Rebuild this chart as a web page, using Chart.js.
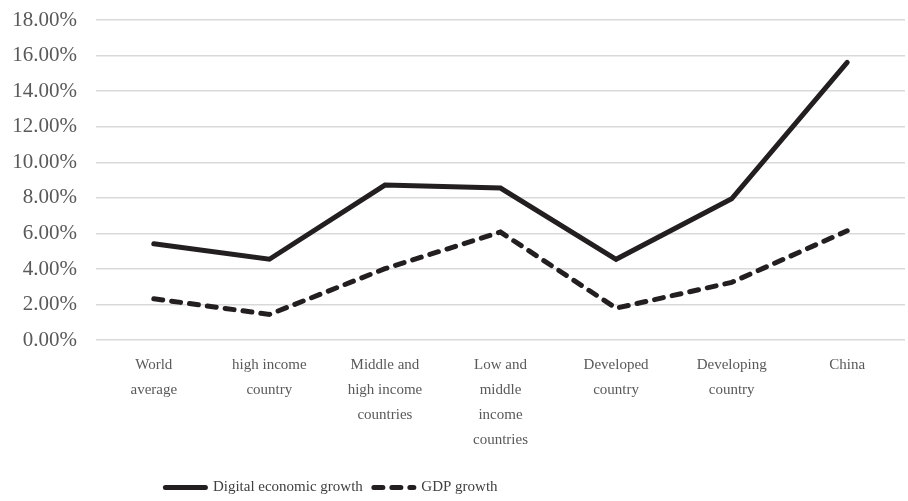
<!DOCTYPE html>
<html>
<head>
<meta charset="UTF-8" />
<script src="https://cdn.jsdelivr.net/npm/chart.js"></script>
<style>
  html, body { margin: 0; padding: 0; background: #fff; }
  #wrap { width: 908px; height: 501px; }
</style>
</head>
<body>
<div id="wrap"><canvas id="growthChart"></canvas></div>
<script>
  // categories (multi-line labels as in the source figure)
  const categories = [
    ["World", "average"],
    ["high income", "country"],
    ["Middle and", "high income", "countries"],
    ["Low and", "middle", "income", "countries"],
    ["Developed", "country"],
    ["Developing", "country"],
    ["China"]
  ];
  const digitalGrowth = [5.42, 4.55, 8.72, 8.55, 4.55, 7.95, 15.62];
  const gdpGrowth = [2.33, 1.45, 4.02, 6.08, 1.8, 3.25, 6.15];
  const yTicks = [0, 2, 4, 6, 8, 10, 12, 14, 16, 18];

  const serif = "'Liberation Serif', 'Times New Roman', serif";

  // keep the dash pattern in the legend samples (point-style legends drop it)
  const legendLabels = (chart) => {
    const items = Chart.defaults.plugins.legend.labels.generateLabels(chart);
    items.forEach((item) => {
      const ds = chart.data.datasets[item.datasetIndex];
      item.lineDash = ds.borderDash || [];
      item.lineCap = "round";
      item.lineWidth = 5;
    });
    return items;
  };

  // the source legend sits left of centre and a bit lower
  const legendShift = {
    id: "legendShift",
    afterLayout(chart) {
      const lg = chart.legend;
      if (!lg) return;
      lg.left = 0;
      lg.right = 663;
      lg.top += 4;
      lg.bottom += 4;
    }
  };

  new Chart(document.getElementById("growthChart"), {
    type: "line",
    data: {
      labels: categories,
      datasets: [
        {
          label: "Digital economic growth",
          data: digitalGrowth,
          borderColor: "#231f20",
          backgroundColor: "#231f20",
          borderWidth: 5,
          borderCapStyle: "round",
          borderJoinStyle: "miter",
          pointRadius: 0,
          tension: 0
        },
        {
          label: "GDP growth",
          data: gdpGrowth,
          borderColor: "#231f20",
          backgroundColor: "#231f20",
          borderWidth: 5,
          borderDash: [9, 9],
          borderCapStyle: "round",
          pointRadius: 0,
          tension: 0
        }
      ]
    },
    plugins: [legendShift],
    options: {
      responsive: true,
      maintainAspectRatio: false,
      animation: false,
      layout: { padding: { top: 20, right: 3, left: 10, bottom: 0 } },
      plugins: {
        tooltip: { enabled: false },
        legend: {
          position: "bottom",
          labels: {
            usePointStyle: true,
            pointStyle: "line",
            pointStyleWidth: 40,
            padding: 11,
            color: "#404040",
            font: { family: serif, size: 15 },
            generateLabels: legendLabels
          }
        }
      },
      scales: {
        x: {
          offset: true,
          grid: { display: false, drawTicks: false },
          border: { display: false },
          ticks: {
            autoSkip: false,
            maxRotation: 0,
            minRotation: 0,
            padding: 12,
            color: "#595959",
            font: { family: serif, size: 15, lineHeight: 1.68 }
          }
        },
        y: {
          min: 0,
          max: 18,
          afterBuildTicks: (axis) => { axis.ticks = yTicks.map(v => ({ value: v })); },
          afterFit: (axis) => {
            axis.width = 86;
            axis.paddingTop = 0;
            axis.paddingBottom = 0;
          },
          grid: { color: "#d9d9d9", lineWidth: 1.5, drawTicks: false },
          border: { display: false },
          ticks: {
            padding: 19,
            color: "#595959",
            font: { family: serif, size: 21 },
            callback: (v) => v.toFixed(2) + "%"
          }
        }
      }
    }
  });
</script>
</body>
</html>
